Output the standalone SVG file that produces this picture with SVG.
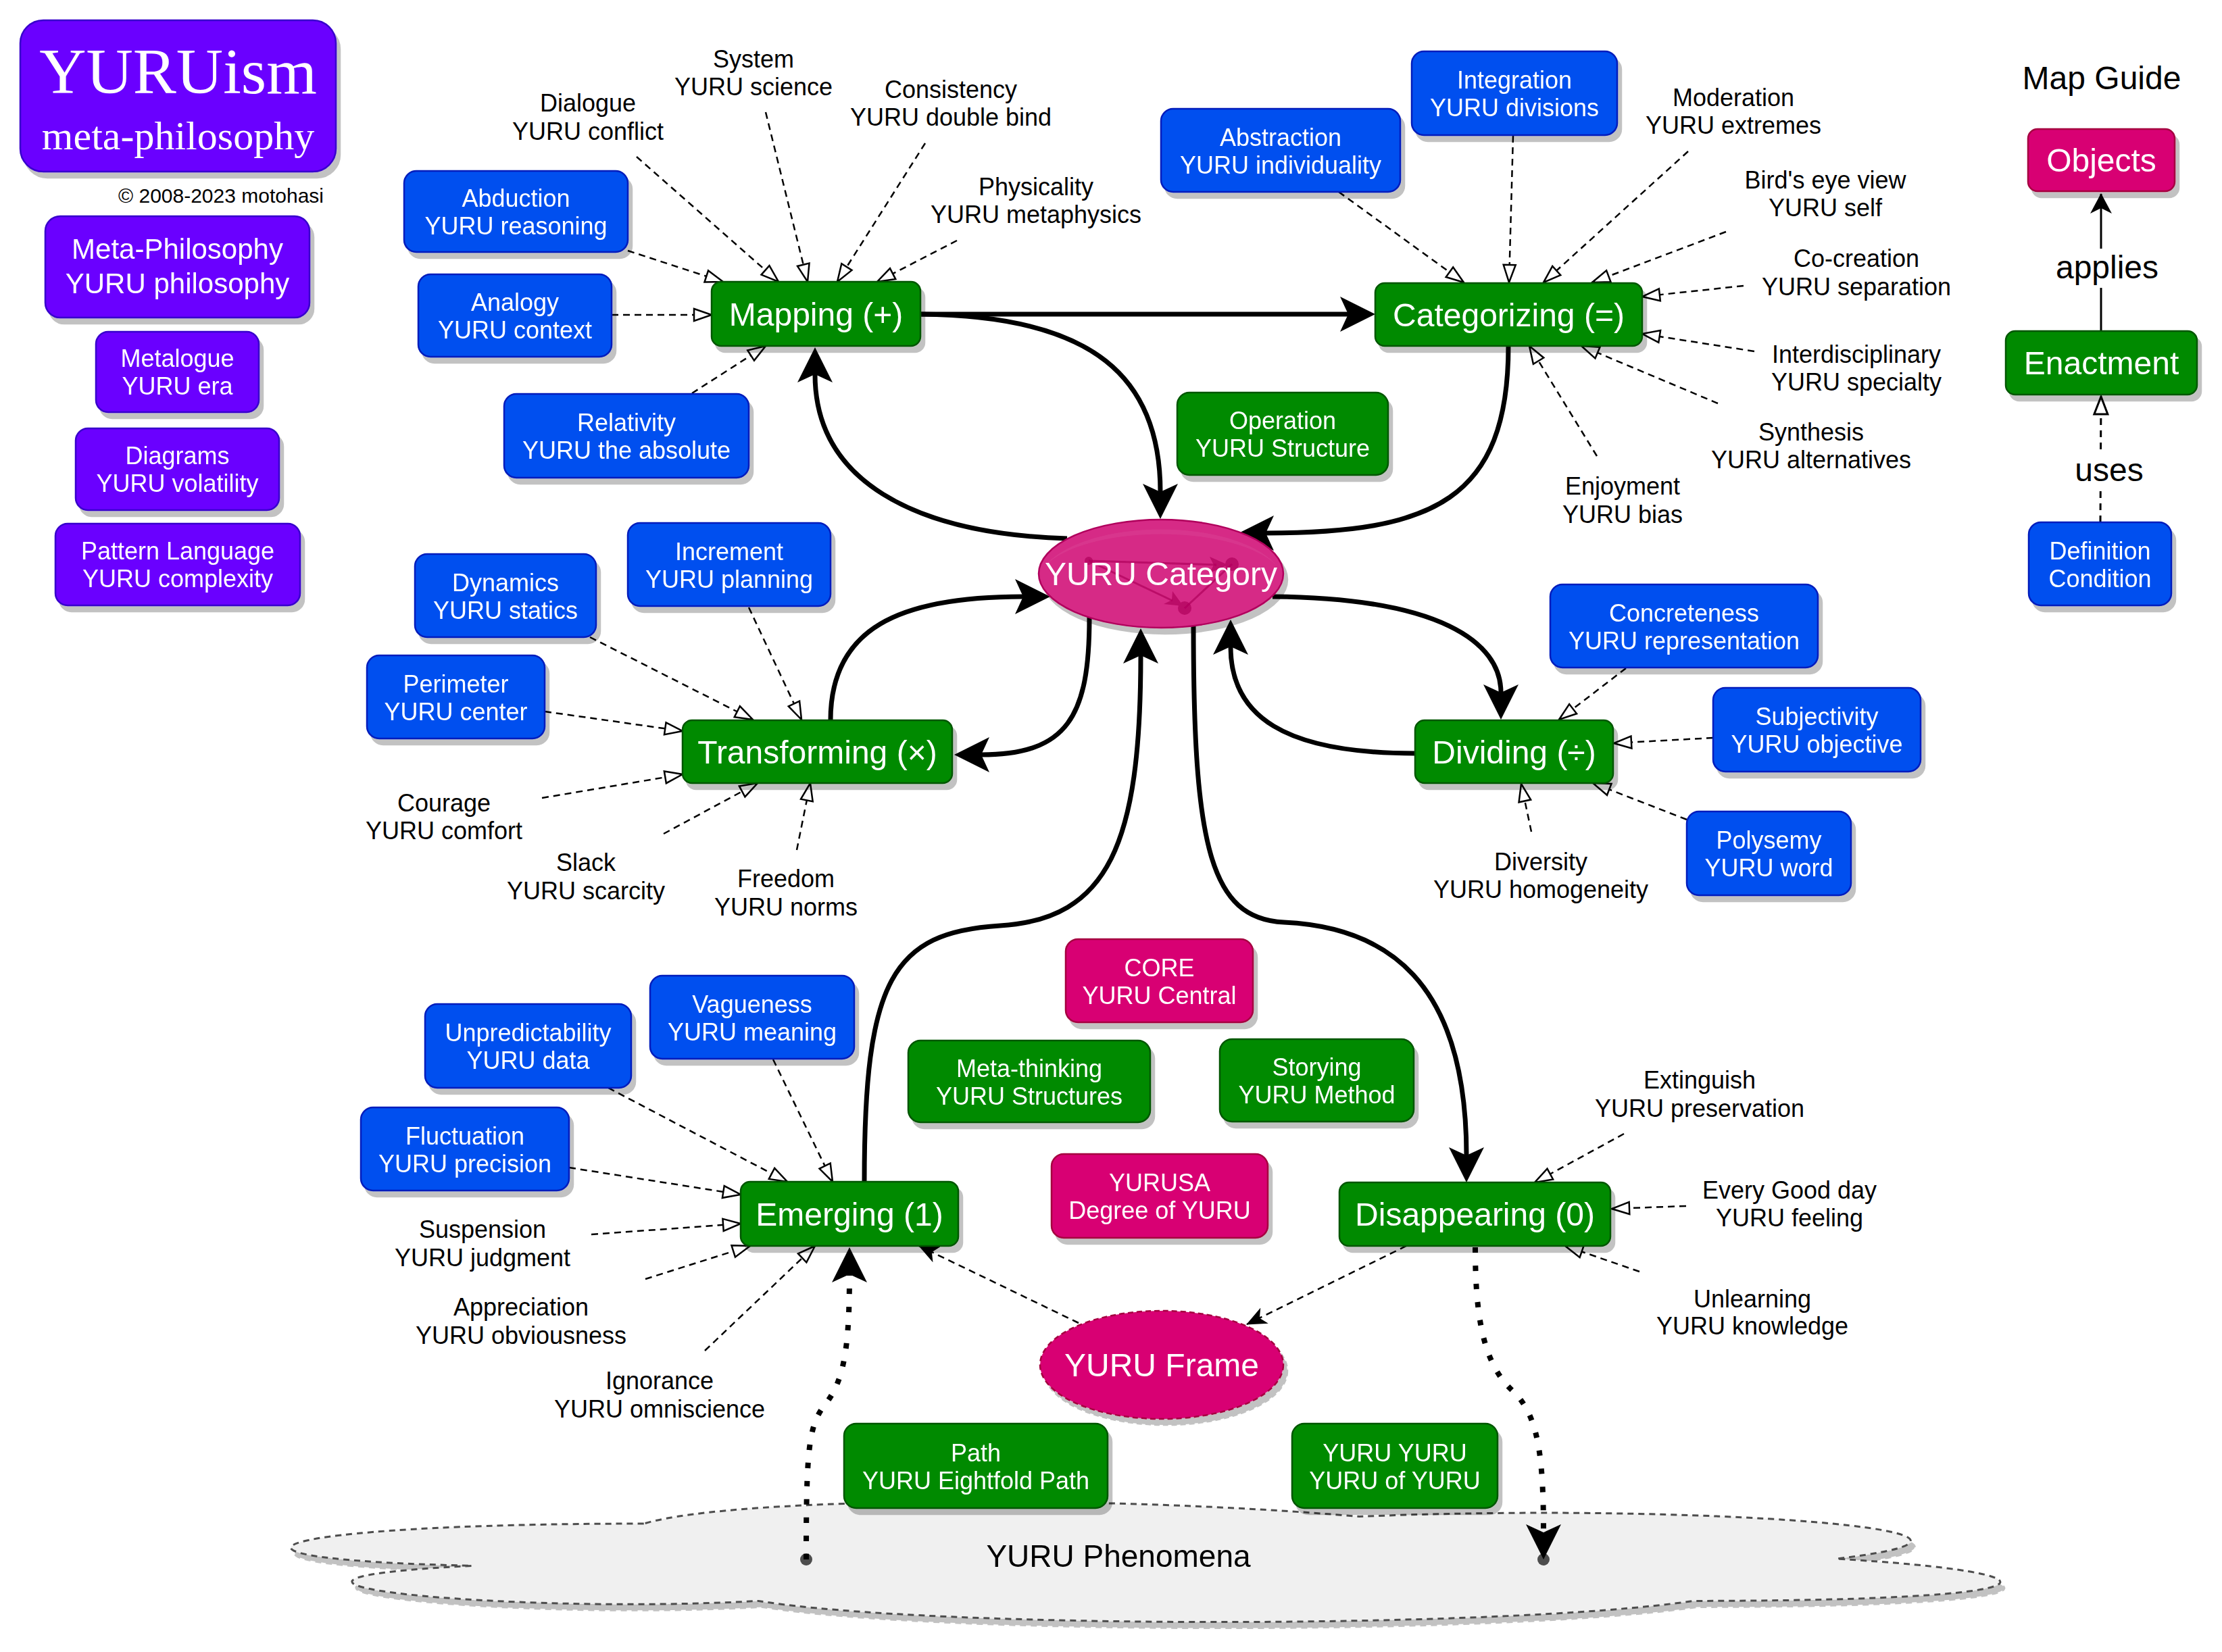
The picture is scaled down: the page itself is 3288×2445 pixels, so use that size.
<svg xmlns="http://www.w3.org/2000/svg" width="3288" height="2445" viewBox="0 0 3288 2445">
<style>
text{font-family:"Liberation Sans",Arial,Helvetica,sans-serif;text-anchor:middle}
.w36{font-size:36px;fill:#fff}
.w42{font-size:42px;fill:#fff}
.w48{font-size:48px;fill:#fff}
.k36{font-size:36px;fill:#000}
.k48{font-size:48px;fill:#000}
.pu{fill:#6a00ff;stroke:#3700cc;stroke-width:2.5}
.bl{fill:#0050ef;stroke:#001dbc;stroke-width:2.5}
.gr{fill:#008a00;stroke:#005700;stroke-width:2.5}
.mg{fill:#d80073;stroke:#a50040;stroke-width:2.5}
.thick{fill:none;stroke:#000;stroke-width:7;marker-end:url(#ab)}
.dot{fill:none;stroke:#000;stroke-width:8;stroke-dasharray:8 19;marker-end:url(#ab)}
.dash{fill:none;stroke:#000;stroke-width:2.5;stroke-dasharray:10 7;marker-end:url(#ot)}
.dashf{fill:none;stroke:#000;stroke-width:2.5;stroke-dasharray:10 7;marker-end:url(#af)}
</style>
<defs>
<filter id="sh" x="-10%" y="-10%" width="130%" height="140%">
<feOffset in="SourceAlpha" dx="6" dy="9" result="o"/>
<feFlood flood-color="#000" flood-opacity="0.24"/>
<feComposite in2="o" operator="in" result="s"/>
<feMerge><feMergeNode in="s"/><feMergeNode in="SourceGraphic"/></feMerge>
</filter>
<marker id="ab" markerUnits="userSpaceOnUse" markerWidth="52" markerHeight="52" viewBox="0 0 52 52" refX="12" refY="26" orient="auto"><path d="M0,0 L52,26 L0,52 L12,26 Z" fill="#000"/></marker>
<marker id="ot" markerUnits="userSpaceOnUse" markerWidth="34" markerHeight="26" viewBox="-4 -4 34 26" refX="26" refY="9" orient="auto"><path d="M0,0 L26,9 L0,18 Z" fill="#fff" stroke="#000" stroke-width="2.5"/></marker>
<marker id="ot2" markerUnits="userSpaceOnUse" markerWidth="34" markerHeight="28" viewBox="-4 -4 34 28" refX="26" refY="10" orient="auto"><path d="M0,0 L26,10 L0,20 Z" fill="#fff" stroke="#000" stroke-width="3"/></marker>
<marker id="af" markerUnits="userSpaceOnUse" markerWidth="30" markerHeight="26" viewBox="0 0 30 26" refX="29" refY="13" orient="auto"><path d="M0,0 L30,13 L0,26 L8,13 Z" fill="#000"/></marker>
<marker id="am" markerUnits="userSpaceOnUse" markerWidth="30" markerHeight="32" viewBox="0 0 30 32" refX="29" refY="16" orient="auto"><path d="M0,0 L30,16 L0,32 L8,16 Z" fill="#000"/></marker>
</defs>
<rect width="3288" height="2445" fill="#fff"/>

<g id="cloud-phenomena" filter="url(#sh)">
<path d="M952.75,2255 C388.2,2255 247,2307 698.7,2317.4 C247,2340.3 755.1,2390.2 1122.1,2369.4 C1376.2,2411 2223.1,2411 2505.4,2369.4 C3070,2369.4 3070,2327.8 2717.1,2307 C3070,2265.4 2505.4,2223.8 2011.4,2244.6 C1658.5,2213.4 1093.9,2213.4 952.75,2255 Z" fill="#f0f0f0" stroke="#4d4d4d" stroke-width="3" stroke-dasharray="9 7"/>
<text class="k48" x="1655" y="2319" style="font-size:46px">YURU Phenomena</text>
</g>

<g id="connectors">
<path class="thick" d="M1362,465 L1995,465"/>
<path class="thick" d="M1362,465 C1620,467 1717,560 1717,728"/>
<path class="thick" d="M1579,797 C1350,790 1206,710 1206,554"/>
<path class="thick" d="M2232,512 C2232,740 2120,789 1873,789"/>
<path class="thick" d="M1229,1066 C1229,930 1330,883 1514,883"/>
<path class="thick" d="M1612,914 C1612,1060 1580,1117 1452,1117"/>
<path class="thick" d="M1883,883 C2130,885 2221,950 2221,1025"/>
<path class="thick" d="M2094,1115 C1900,1115 1821,1060 1821,957"/>
<path class="thick" d="M1279,1749 C1279,1450 1320,1380 1480,1370 C1640,1360 1688,1250 1688,970"/>
<path class="thick" d="M1766,927 C1766,1250 1790,1360 1900,1365 C2050,1372 2170,1450 2170,1710"/>
<circle cx="1193" cy="2308" r="9" fill="#4d4d4d"/>
<path class="dot" d="M1193,2308 C1193,2150 1196,2110 1220,2080 C1248,2045 1257,2000 1257,1886"/>
<circle cx="2284" cy="2308" r="9" fill="#4d4d4d"/>
<path class="dot" d="M2183,1846 C2183,1950 2195,2020 2240,2060 C2275,2095 2284,2150 2284,2268"/>
<path class="dashf" d="M1596,1958 L1360,1844"/>
<path class="dashf" d="M2081,1844 L1845,1960"/>
<path class="dash" d="M942,232 L1152,417"/>
<path class="dash" d="M1133,166 L1195,417"/>
<path class="dash" d="M1369,212 L1239,417"/>
<path class="dash" d="M1416,356 L1298,417"/>
<path class="dash" d="M929,371 L1070,417"/>
<path class="dash" d="M905,466 L1053,466"/>
<path class="dash" d="M1024,582 L1133,512"/>
<path class="dash" d="M1981,284 L2166,418"/>
<path class="dash" d="M2239,201 L2233,418"/>
<path class="dash" d="M2498,224 L2284,418"/>
<path class="dash" d="M2554,343 L2356,418"/>
<path class="dash" d="M2580,423 L2430,439"/>
<path class="dash" d="M2596,520 L2430,494"/>
<path class="dash" d="M2542,597 L2340,512"/>
<path class="dash" d="M2363,675 L2263,512"/>
<path class="dash" d="M873,943 L1114,1065"/>
<path class="dash" d="M1108,899 L1186,1065"/>
<path class="dash" d="M806,1053 L1010,1082"/>
<path class="dash" d="M802,1181 L1010,1146"/>
<path class="dash" d="M982,1234 L1121,1159"/>
<path class="dash" d="M1179,1258 L1199,1159"/>
<path class="dash" d="M2406,989 L2307,1065"/>
<path class="dash" d="M2535,1092 L2388,1100"/>
<path class="dash" d="M2496,1213 L2357,1159"/>
<path class="dash" d="M2266,1231 L2251,1160"/>
<path class="dash" d="M900,1610 L1165,1749"/>
<path class="dash" d="M1144,1568 L1232,1749"/>
<path class="dash" d="M842,1728 L1096,1768"/>
<path class="dash" d="M875,1827 L1096,1811"/>
<path class="dash" d="M955,1893 L1110,1844"/>
<path class="dash" d="M1043,1999 L1206,1844"/>
<path class="dash" d="M2403,1678 L2271,1750"/>
<path class="dash" d="M2495,1785 L2385,1789"/>
<path class="dash" d="M2426,1882 L2316,1844"/>
<path d="M3109,490 L3109,287" fill="none" stroke="#000" stroke-width="3" marker-end="url(#am)"/>
<path d="M3108,773 L3109,587" fill="none" stroke="#000" stroke-width="3" stroke-dasharray="10 8" marker-end="url(#ot2)"/>
<rect x="3040" y="368" width="150" height="58" fill="#fff"/>
<text class="k48" x="3118" y="412">applies</text>
<rect x="3065" y="665" width="110" height="60" fill="#fff"/>
<text class="k48" x="3121" y="712">uses</text>
</g>

<g id="title" filter="url(#sh)">
<rect class="pu" x="30" y="30" width="467" height="224" rx="34"/>
<text x="263.5" y="138" style="font-family:'Liberation Serif','Times New Roman',serif;font-size:96px;fill:#fff">YURUism</text>
<text x="263.5" y="221" style="font-family:'Liberation Serif','Times New Roman',serif;font-size:60px;fill:#fff">meta-philosophy</text>
</g>
<g id="copyright"><text x="479" y="300" style="font-size:30px;text-anchor:end">© 2008-2023 motohasi</text></g>
<g id="meta-philosophy" filter="url(#sh)"><rect class="pu" x="67" y="320" width="391" height="150" rx="22"/><text class="w42" x="262.5" y="383">Meta-Philosophy</text><text class="w42" x="262.5" y="434">YURU philosophy</text></g>
<g id="metalogue" filter="url(#sh)"><rect class="pu" x="142" y="491" width="241" height="119" rx="18"/><text class="w36" x="262.5" y="543">Metalogue</text><text class="w36" x="262.5" y="584">YURU era</text></g>
<g id="diagrams" filter="url(#sh)"><rect class="pu" x="112" y="634" width="301" height="121" rx="18"/><text class="w36" x="262.5" y="687">Diagrams</text><text class="w36" x="262.5" y="728">YURU volatility</text></g>
<g id="pattern-language" filter="url(#sh)"><rect class="pu" x="82" y="775" width="362" height="121" rx="18"/><text class="w36" x="263" y="828">Pattern Language</text><text class="w36" x="263" y="869">YURU complexity</text></g>

<g id="abduction" filter="url(#sh)"><rect class="bl" x="598" y="253" width="331" height="120" rx="18"/><text class="w36" x="763.5" y="306">Abduction</text><text class="w36" x="763.5" y="347">YURU reasoning</text></g>
<g id="analogy" filter="url(#sh)"><rect class="bl" x="619" y="406" width="286" height="122" rx="18"/><text class="w36" x="762" y="460">Analogy</text><text class="w36" x="762" y="501">YURU context</text></g>
<g id="relativity" filter="url(#sh)"><rect class="bl" x="746" y="583" width="362" height="124" rx="18"/><text class="w36" x="927" y="638">Relativity</text><text class="w36" x="927" y="679">YURU the absolute</text></g>
<g id="abstraction" filter="url(#sh)"><rect class="bl" x="1718" y="161" width="354" height="123" rx="18"/><text class="w36" x="1895" y="216">Abstraction</text><text class="w36" x="1895" y="257">YURU individuality</text></g>
<g id="integration" filter="url(#sh)"><rect class="bl" x="2089" y="76" width="304" height="124" rx="18"/><text class="w36" x="2241" y="131">Integration</text><text class="w36" x="2241" y="172">YURU divisions</text></g>
<g id="dynamics" filter="url(#sh)"><rect class="bl" x="614" y="820" width="268" height="123" rx="18"/><text class="w36" x="748" y="875">Dynamics</text><text class="w36" x="748" y="916">YURU statics</text></g>
<g id="increment" filter="url(#sh)"><rect class="bl" x="929" y="774" width="300" height="123" rx="18"/><text class="w36" x="1079" y="829">Increment</text><text class="w36" x="1079" y="870">YURU planning</text></g>
<g id="perimeter" filter="url(#sh)"><rect class="bl" x="543" y="970" width="263" height="123" rx="18"/><text class="w36" x="674.5" y="1025">Perimeter</text><text class="w36" x="674.5" y="1066">YURU center</text></g>
<g id="concreteness" filter="url(#sh)"><rect class="bl" x="2294" y="865" width="396" height="123" rx="18"/><text class="w36" x="2492" y="920">Concreteness</text><text class="w36" x="2492" y="961">YURU representation</text></g>
<g id="subjectivity" filter="url(#sh)"><rect class="bl" x="2535" y="1018" width="307" height="124" rx="18"/><text class="w36" x="2688.5" y="1073">Subjectivity</text><text class="w36" x="2688.5" y="1114">YURU objective</text></g>
<g id="polysemy" filter="url(#sh)"><rect class="bl" x="2496" y="1201" width="243" height="124" rx="18"/><text class="w36" x="2617.5" y="1256">Polysemy</text><text class="w36" x="2617.5" y="1297">YURU word</text></g>
<g id="unpredictability" filter="url(#sh)"><rect class="bl" x="629" y="1486" width="305" height="124" rx="18"/><text class="w36" x="781.5" y="1541">Unpredictability</text><text class="w36" x="781.5" y="1582">YURU data</text></g>
<g id="vagueness" filter="url(#sh)"><rect class="bl" x="962" y="1444" width="302" height="123" rx="18"/><text class="w36" x="1113" y="1499">Vagueness</text><text class="w36" x="1113" y="1540">YURU meaning</text></g>
<g id="fluctuation" filter="url(#sh)"><rect class="bl" x="534" y="1639" width="308" height="123" rx="18"/><text class="w36" x="688" y="1694">Fluctuation</text><text class="w36" x="688" y="1735">YURU precision</text></g>

<g id="mapping" filter="url(#sh)"><rect class="gr" x="1053" y="417" width="309" height="95" rx="14"/><text class="w48" x="1207.5" y="482">Mapping (+)</text></g>
<g id="categorizing" filter="url(#sh)"><rect class="gr" x="2035" y="419" width="395" height="93" rx="14"/><text class="w48" x="2232.5" y="483">Categorizing (=)</text></g>
<g id="transforming" filter="url(#sh)"><rect class="gr" x="1010" y="1066" width="399" height="93" rx="14"/><text class="w48" x="1209.5" y="1130">Transforming (×)</text></g>
<g id="dividing" filter="url(#sh)"><rect class="gr" x="2094" y="1066" width="293" height="93" rx="14"/><text class="w48" x="2240.5" y="1130">Dividing (÷)</text></g>
<g id="emerging" filter="url(#sh)"><rect class="gr" x="1096" y="1749" width="322" height="95" rx="14"/><text class="w48" x="1257" y="1814">Emerging (1)</text></g>
<g id="disappearing" filter="url(#sh)"><rect class="gr" x="1982" y="1750" width="401" height="94" rx="14"/><text class="w48" x="2182.5" y="1814">Disappearing (0)</text></g>
<g id="operation" filter="url(#sh)"><rect class="gr" x="1742" y="581" width="312" height="122" rx="18"/><text class="w36" x="1898" y="635">Operation</text><text class="w36" x="1898" y="676">YURU Structure</text></g>
<g id="meta-thinking" filter="url(#sh)"><rect class="gr" x="1344" y="1540" width="358" height="121" rx="18"/><text class="w36" x="1523" y="1594">Meta-thinking</text><text class="w36" x="1523" y="1635">YURU Structures</text></g>
<g id="storying" filter="url(#sh)"><rect class="gr" x="1805" y="1538" width="287" height="122" rx="18"/><text class="w36" x="1948.5" y="1592">Storying</text><text class="w36" x="1948.5" y="1633">YURU Method</text></g>
<g id="path" filter="url(#sh)"><rect class="gr" x="1249" y="2107" width="390" height="125" rx="18"/><text class="w36" x="1444" y="2163">Path</text><text class="w36" x="1444" y="2204">YURU Eightfold Path</text></g>
<g id="yuru-yuru" filter="url(#sh)"><rect class="gr" x="1912" y="2107" width="304" height="125" rx="18"/><text class="w36" x="2064" y="2163">YURU YURU</text><text class="w36" x="2064" y="2204">YURU of YURU</text></g>

<g id="core" filter="url(#sh)"><rect class="mg" x="1577" y="1390" width="277" height="123" rx="18"/><text class="w36" x="1715.5" y="1445">CORE</text><text class="w36" x="1715.5" y="1486">YURU Central</text></g>
<g id="yurusa" filter="url(#sh)"><rect class="mg" x="1556" y="1708" width="320" height="124" rx="18"/><text class="w36" x="1716" y="1763">YURUSA</text><text class="w36" x="1716" y="1804">Degree of YURU</text></g>

<g id="yuru-category" filter="url(#sh)">
<ellipse cx="1718" cy="849" rx="181" ry="80" fill="#d62a86" stroke="#b0005c" stroke-width="2.5"/>
<path d="M1545,840 A181,80 0 0 1 1891,840 A181,70 0 0 0 1545,840 Z" fill="#fff" opacity="0.06"/>
<g stroke="#b3005e" stroke-width="3" fill="none" opacity="0.75">
<path d="M1611,830 L1800,836"/><path d="M1611,830 L1735,889"/><path d="M1823,835 L1753,900"/>
</g>
<g fill="#b3005e" opacity="0.75">
<path d="M1817,836 L1790,824 L1796,836 L1790,848 Z"/><path d="M1751,897 L1735,875 L1734,888 L1722,894 Z"/>
<circle cx="1611" cy="830" r="6"/><circle cx="1823" cy="835" r="10"/><circle cx="1753" cy="900" r="10"/>
</g>
<text class="w48" x="1718" y="866">YURU Category</text>
</g>
<g id="yuru-frame" filter="url(#sh)">
<ellipse cx="1719" cy="2020" rx="180" ry="80" fill="#d80073" stroke="#a50040" stroke-width="2.5" stroke-dasharray="8 5"/>
<text class="w48" x="1719" y="2037">YURU Frame</text>
</g>

<g id="labels">
<text class="k36" x="870" y="165">Dialogue</text><text class="k36" x="870" y="207">YURU conflict</text>
<text class="k36" x="1115" y="100">System</text><text class="k36" x="1115" y="141">YURU science</text>
<text class="k36" x="1407" y="145">Consistency</text><text class="k36" x="1407" y="186">YURU double bind</text>
<text class="k36" x="1533" y="289">Physicality</text><text class="k36" x="1533" y="330">YURU metaphysics</text>
<text class="k36" x="2565" y="157">Moderation</text><text class="k36" x="2565" y="198">YURU extremes</text>
<text class="k36" x="2701" y="279">Bird's eye view</text><text class="k36" x="2701" y="320">YURU self</text>
<text class="k36" x="2747" y="395">Co-creation</text><text class="k36" x="2747" y="437">YURU separation</text>
<text class="k36" x="2747" y="537">Interdisciplinary</text><text class="k36" x="2747" y="578">YURU specialty</text>
<text class="k36" x="2680" y="652">Synthesis</text><text class="k36" x="2680" y="693">YURU alternatives</text>
<text class="k36" x="2401" y="732">Enjoyment</text><text class="k36" x="2401" y="774">YURU bias</text>
<text class="k36" x="657" y="1201">Courage</text><text class="k36" x="657" y="1242">YURU comfort</text>
<text class="k36" x="867" y="1289">Slack</text><text class="k36" x="867" y="1331">YURU scarcity</text>
<text class="k36" x="1163" y="1313">Freedom</text><text class="k36" x="1163" y="1355">YURU norms</text>
<text class="k36" x="2280" y="1288">Diversity</text><text class="k36" x="2280" y="1329">YURU homogeneity</text>
<text class="k36" x="714" y="1832">Suspension</text><text class="k36" x="714" y="1874">YURU judgment</text>
<text class="k36" x="771" y="1947">Appreciation</text><text class="k36" x="771" y="1989">YURU obviousness</text>
<text class="k36" x="976" y="2056">Ignorance</text><text class="k36" x="976" y="2098">YURU omniscience</text>
<text class="k36" x="2515" y="1611">Extinguish</text><text class="k36" x="2515" y="1653">YURU preservation</text>
<text class="k36" x="2648" y="1774">Every Good day</text><text class="k36" x="2648" y="1815">YURU feeling</text>
<text class="k36" x="2593" y="1935">Unlearning</text><text class="k36" x="2593" y="1975">YURU knowledge</text>
</g>

<g id="map-guide">
<text class="k48" x="3110" y="132">Map Guide</text>
</g>
<g id="objects" filter="url(#sh)"><rect class="mg" x="3001" y="191" width="217" height="92" rx="14"/><text class="w48" x="3109.5" y="254">Objects</text></g>
<g id="enactment" filter="url(#sh)"><rect class="gr" x="2968" y="490" width="283" height="94" rx="14"/><text class="w48" x="3109.5" y="554">Enactment</text></g>
<g id="definition" filter="url(#sh)"><rect class="bl" x="3002" y="773" width="211" height="123" rx="18"/><text class="w36" x="3107.5" y="828">Definition</text><text class="w36" x="3107.5" y="869">Condition</text></g>
</svg>
